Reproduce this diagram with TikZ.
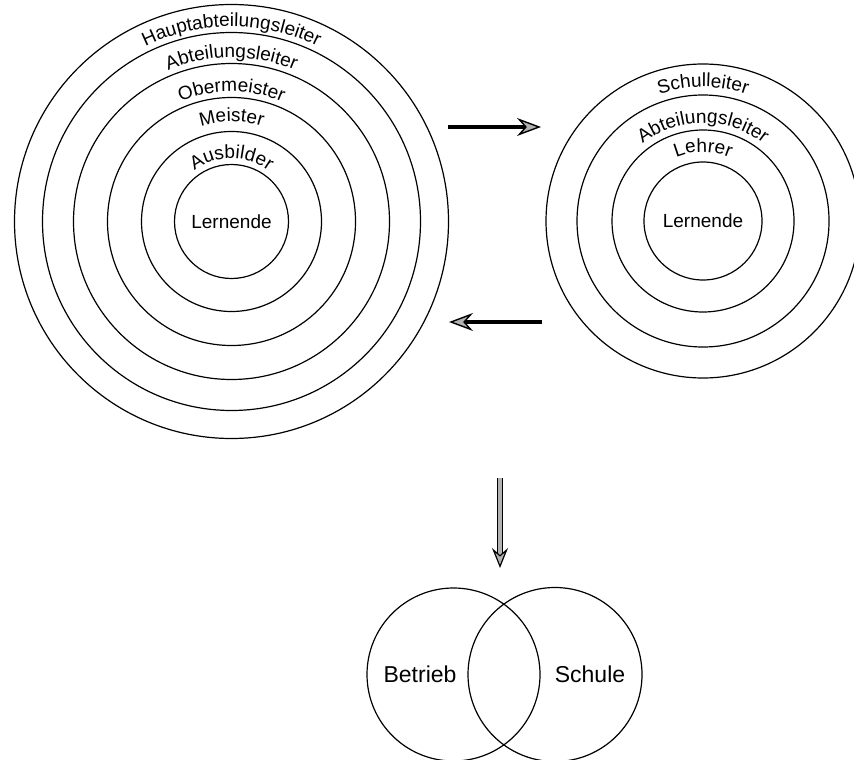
\documentclass[tikz,border=0pt]{standalone}
\usepackage{fontspec}
\setmainfont{Liberation Sans}
\usetikzlibrary{arrows.meta,decorations.text}
\newcommand\lblfont{\fontsize{9.5}{11}\selectfont}
\newcommand\vennfont{\fontsize{11.5}{13}\selectfont}
\begin{document}
\begin{tikzpicture}[x=0.5pt,y=0.5pt,
  % ring=<radius in px units>
  ring/.style={draw, circle, line width=0.6pt, inner sep=0pt, minimum size=#1*1pt},
  headtip/.tip={Stealth[length=12pt, width=9pt, inset=4pt, fill=gray!60, line width=0.7pt]},
  flowarrow/.style={line width=1.6pt, -headtip},
  downarrow/.style={line width=0.5pt, double=gray!60, double distance=1.8pt,
    -{Stealth[length=10pt, width=8pt, inset=3.5pt, fill=gray!60, line width=0.6pt]}},
  arclabel/.style={decorate, decoration={text along path, text align=center, text={|\lblfont|#1}}}]
\useasboundingbox (0,0) rectangle (854,-759);

% company hierarchy
\coordinate (C1) at (231.5,-221.5);
\node[ring=217] (hal) at (C1) {};
\node[ring=189] (al) at (C1) {};
\node[ring=158] (om) at (C1) {};
\node[ring=124] (me) at (C1) {};
\node[ring=90]  (au) at (C1) {};
\node[ring=57, font=\lblfont] (lern1) at (C1) {Lernende};

\path[arclabel=Hauptabteilungsleiter] (C1) ++(160:195) arc[start angle=160, end angle=20, radius=195];
\path[arclabel=Abteilungsleiter] (C1) ++(160:164) arc[start angle=160, end angle=20, radius=164];
\path[arclabel=Obermeister] (C1) ++(160:130) arc[start angle=160, end angle=20, radius=130];
\path[arclabel=Meister] (C1) ++(160:100) arc[start angle=160, end angle=20, radius=100];
\path[arclabel=Ausbilder] (C1) ++(160:63) arc[start angle=160, end angle=20, radius=63];

% school hierarchy
\coordinate (C2) at (703,-221);
\node[ring=157] (sl) at (C2) {};
\node[ring=126] (sal) at (C2) {};
\node[ring=91]  (le) at (C2) {};
\node[ring=59, font=\lblfont] (lern2) at (C2) {Lernende};

\path[arclabel=Schulleiter] (C2) ++(160:134) arc[start angle=160, end angle=20, radius=134];
\path[arclabel=Abteilungsleiter] (C2) ++(160:98) arc[start angle=160, end angle=20, radius=98];
\path[arclabel=Lehrer] (C2) ++(160:69) arc[start angle=160, end angle=20, radius=69];

% exchange arrows
\coordinate (t1) at (448,-127);
\coordinate (t2) at (541,-127);
\coordinate (b1) at (542,-322);
\coordinate (b2) at (449,-322);
\draw[flowarrow] (t1) -- (t2);
\draw[flowarrow] (b1) -- (b2);

% down arrow
\coordinate (d1) at (500,-478);
\coordinate (d2) at (500,-568);
\draw[downarrow] (d1) -- (d2);

% overlap of company and school
\node[ring=86.5] (vb) at (453.5,-674.5) {};
\node[ring=87] (vs) at (555,-674.5) {};
\node[font=\vennfont] (tb) at (420,-674) {Betrieb};
\node[font=\vennfont] (ts) at (590,-674) {Schule};
\end{tikzpicture}
\end{document}
